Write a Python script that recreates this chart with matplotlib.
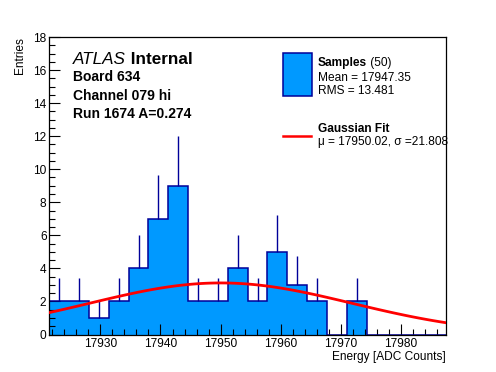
import matplotlib
matplotlib.use("Agg")
import matplotlib.pyplot as plt
import numpy as np
from matplotlib.patches import Rectangle
from matplotlib.lines import Line2D

plt.rcParams['font.family'] = ['Liberation Sans', 'DejaVu Sans']

# histogram data (20 bins between 17921.5 and 17987.5)
x_lo, x_hi = 17921.5, 17987.5
counts = [2, 2, 1, 2, 4, 7, 9, 2, 2, 4, 2, 5, 3, 2, 0, 2, 0, 0, 0, 0]

# gaussian fit
fit_amp = 3.12
fit_mu = 17950.02
fit_sigma = 21.808

n_samples = 50
mean_val = 17947.35
rms_val = 13.481

fill_col = "#0099ff"
edge_col = "#000099"

edges = np.linspace(x_lo, x_hi, len(counts) + 1)
centers = 0.5 * (edges[:-1] + edges[1:])
counts = np.array(counts, dtype=float)

fig = plt.figure(figsize=(4.96, 3.72), dpi=100)
ax = fig.add_axes([0.0994, 0.1008, 0.7998, 0.7997])

ax.stairs(counts, edges, fill=True, color=fill_col, zorder=1)
ax.stairs(counts, edges, color=edge_col, lw=1.1, zorder=2)

# error bars (only the upper half shows above the fill)
nz = counts > 0
ax.vlines(centers[nz], counts[nz], counts[nz] + np.sqrt(counts[nz]),
          color=edge_col, lw=1.0, zorder=2)

xf = np.linspace(x_lo, x_hi, 100)
yf = fit_amp * np.exp(-0.5 * ((xf - fit_mu) / fit_sigma) ** 2)
ax.plot(xf, yf, color="red", lw=2, zorder=3)

ax.set_xlim(x_lo, x_hi)
ax.set_ylim(0, 18)
ax.set_xticks(np.arange(17930, 17990, 10))
ax.set_xticks(np.arange(17922, 17988, 2), minor=True)
ax.set_yticks(np.arange(0, 19, 2))
ax.set_yticks(np.arange(0, 18.01, 0.5), minor=True)
ax.tick_params(which="both", direction="in", labelsize=8.6, width=0.8)
ax.tick_params(which="major", length=8)
ax.tick_params(which="minor", length=4)
ax.tick_params(axis="x", pad=2.5)
ax.tick_params(axis="y", pad=2)
for s in ax.spines.values():
    s.set_linewidth(0.9)

ax.set_xlabel("Energy [ADC Counts]", fontsize=8.6, loc="right")
ax.xaxis.set_label_coords(1.0, -0.055)
ax.set_ylabel("Entries", fontsize=8.6, loc="top")
ax.yaxis.set_label_coords(-0.06, 1.0)

# ATLAS label block
t = fig.text(0.147, 0.829, "ATLAS", fontsize=12.3, style="italic", va="baseline")
fig.canvas.draw()
ax.annotate(" Internal", xy=(1, 0), xycoords=t, fontsize=12.3,
            fontweight="bold", va="bottom", ha="left")
info = ["Board 634", "Channel 079 hi", "Run 1674 A=0.274"]
for i, line in enumerate(info):
    fig.text(0.147, 0.781 - i * 0.0495, line, fontsize=10,
             fontweight="bold", va="baseline")

# legend
fig.patches.append(Rectangle((0.571, 0.741), 0.0573, 0.1156, transform=fig.transFigure,
                             facecolor=fill_col, edgecolor=edge_col, lw=1.1))
t2 = fig.text(0.6405, 0.8234, "Samples", fontsize=8.6, fontweight="bold", va="baseline")
ax.annotate(f" ({n_samples})", xy=(1, 0), xycoords=t2, fontsize=8.6,
            va="bottom", ha="left")
fig.text(0.6405, 0.7823, f"Mean = {mean_val:.2f}", fontsize=8.6, va="baseline")
fig.text(0.6405, 0.7473, f"RMS = {rms_val:.3f}", fontsize=8.6, va="baseline")

fig.lines.append(Line2D([0.571, 0.628], [0.6352, 0.6352], transform=fig.transFigure,
                        color="red", lw=1.8))
fig.text(0.6405, 0.6452, "Gaussian Fit", fontsize=8.6, fontweight="bold", va="baseline")
fig.text(0.6405, 0.6102, f"\u03bc = {fit_mu:.2f}, \u03c3 ={fit_sigma:.3f}",
         fontsize=8.6, va="baseline")

fig.savefig("out.png", dpi=100)
